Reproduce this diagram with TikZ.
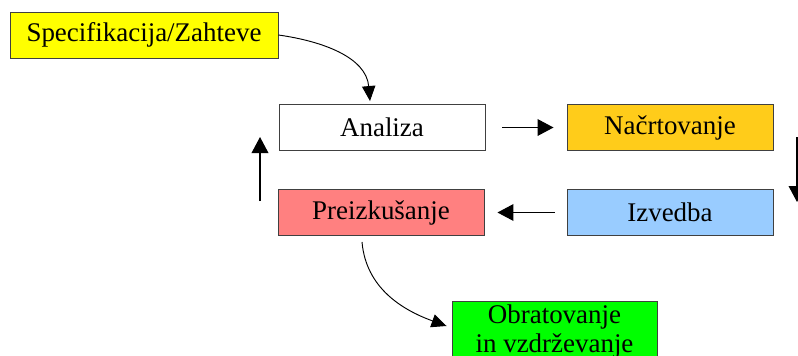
\documentclass[tikz,border=0pt]{standalone}
\usepackage{fontspec}
\setmainfont{Liberation Serif}
\usetikzlibrary{arrows.meta}
\definecolor{specyellow}{HTML}{FFFF00}
\definecolor{nacrtorange}{HTML}{FFCC1A}
\definecolor{izvedbablue}{HTML}{99CCFF}
\definecolor{preizkred}{HTML}{FF8080}
\definecolor{obratgreen}{HTML}{00FF00}
\begin{document}
\begin{tikzpicture}[x=0.03cm, y=-0.03cm,
    box/.style={draw=black!75, line width=0.8pt, minimum width=6.18cm, minimum height=1.38cm,
        inner sep=0pt, font=\fontsize{23}{25}\selectfont},
    arr/.style={-{Triangle[length=0.48cm, width=0.5cm]}, line width=1.2pt},
    curvarr/.style={-{Triangle[length=0.45cm, width=0.4cm]}, line width=0.8pt}]

        \useasboundingbox (0,0) rectangle (798,355);

        % Nodes
        \node (spec) [box, fill=specyellow, minimum width=8.04cm] at (144,35) {Specifikacija/Zahteve};
        \node (analiza) [box, fill=white] at (382,127.5) {Analiza};
        \node (nacrt) [box, fill=nacrtorange] at (670,127.5) {Načrtovanje};
        \node (izvedba) [box, fill=izvedbablue] at (670,212.5) {Izvedba};
        \node (preizk) [box, fill=preizkred] at (381,212.5) {Preizkušanje};
        \node (obrat) [box, fill=obratgreen, anchor=north, align=center, inner ysep=0.1cm,
            minimum width=6.15cm] at (554.5,301) {Obratovanje\\in vzdrževanje};

        % Free ends at the right and left
        \coordinate (rtop) at (797,137);
        \coordinate (rbot) at (797,202);
        \coordinate (ltop) at (260,137);
        \coordinate (lbot) at (260,201);

        % Edges
        \draw[curvarr] (spec.east) to[out=-8, in=95] ([xshift=-0.36cm, yshift=0.09cm]analiza.north);
        \draw[arr, shorten <=0.51cm, shorten >=0.39cm] (analiza) -- (nacrt);
        \draw[arr] (rtop) -- (rbot);
        \draw[arr, shorten <=0.36cm, shorten >=0.39cm] (izvedba) -- (preizk);
        \draw[arr] (lbot) -- (ltop);
        \draw[curvarr] ([xshift=-0.57cm, yshift=-0.18cm]preizk.south) to[out=-85, in=160]
            ([xshift=-0.15cm, yshift=-0.75cm]obrat.north west);

    \end{tikzpicture}
\end{document}
